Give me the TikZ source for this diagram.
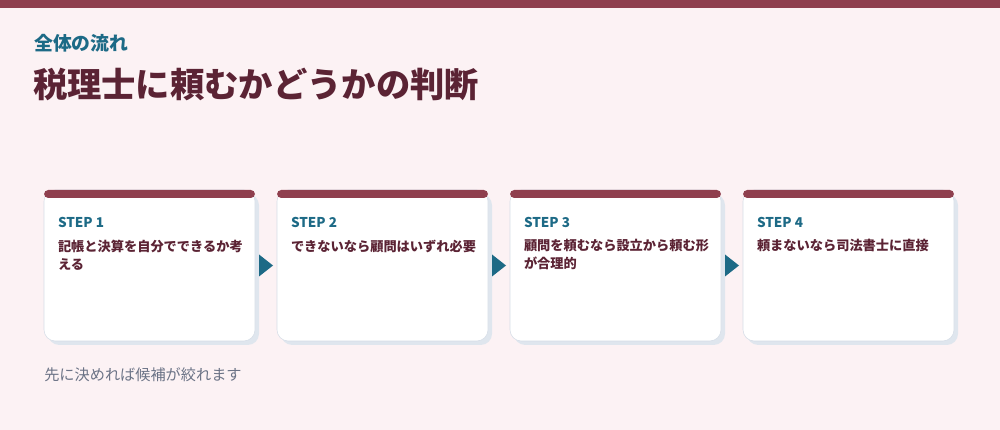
\documentclass[tikz,border=0pt]{standalone}
\usepackage{fontspec}
\setmainfont{Noto Sans CJK JP}
\usetikzlibrary{calc,shadows}

\definecolor{barred}{HTML}{8F3F4E}
\definecolor{pagebg}{HTML}{FCF2F4}
\definecolor{steelteal}{HTML}{1D6A86}
\definecolor{winetext}{HTML}{5B2334}
\definecolor{greytext}{HTML}{6B7386}
\definecolor{cardline}{HTML}{D6DDE7}
\definecolor{cardshade}{HTML}{DFE6EE}

\begin{document}
\begin{tikzpicture}[
    card/.style={draw=cardline, fill=white, rounded corners=8pt,
        minimum width=5.275cm, minimum height=3.775cm, inner sep=0pt,
        drop shadow={shadow xshift=0.1cm, shadow yshift=-0.1cm,
            fill=cardshade, opacity=1}},
    topbar/.style={fill=barred, rounded corners=3pt,
        minimum width=5.275cm, minimum height=0.2cm, inner sep=0pt},
    steplabel/.style={anchor=west, inner sep=0pt, text=steelteal,
        font=\bfseries\fontsize{9.6}{11}\selectfont},
    steptext/.style={anchor=north west, inner sep=0pt, align=left,
        text=winetext, font=\bfseries\fontsize{9.4}{12.8}\selectfont},
    flowarrow/.style={fill=steelteal}
]

% ============================
% Page
% ============================
\fill[pagebg] (0,0) rectangle (25,-10.75);
\useasboundingbox (0,0) rectangle (25,-10.75);
\fill[barred] (0,0) rectangle (25,-0.2);

% ============================
% Headings
% ============================
\node[anchor=west, inner sep=0pt, text=steelteal,
      font=\bfseries\fontsize{13.4}{15}\selectfont] (kicker) at (0.85,-1.08) {全体の流れ};
\node[anchor=west, inner sep=0pt, text=winetext,
      font=\bfseries\fontsize{24.4}{28}\selectfont] (title) at (0.82,-2.1) {税理士に頼むかどうかの判断};

% ============================
% Cards
% ============================
\node[card] (step1) at (3.7375,-6.6375) {};
\node[card] (step2) at (9.5625,-6.6375) {};
\node[card] (step3) at (15.3875,-6.6375) {};
\node[card] (step4) at (21.2125,-6.6375) {};

\node[topbar, anchor=north] (bar1) at (step1.north) {};
\node[topbar, anchor=north] (bar2) at (step2.north) {};
\node[topbar, anchor=north] (bar3) at (step3.north) {};
\node[topbar, anchor=north] (bar4) at (step4.north) {};

% Step labels
\node[steplabel] (lab1) at ($(step1.north west)+(0.35,-0.82)$) {STEP 1};
\node[steplabel] (lab2) at ($(step2.north west)+(0.35,-0.82)$) {STEP 2};
\node[steplabel] (lab3) at ($(step3.north west)+(0.35,-0.82)$) {STEP 3};
\node[steplabel] (lab4) at ($(step4.north west)+(0.35,-0.82)$) {STEP 4};

% Step texts
\node[steptext] (txt1) at ($(step1.north west)+(0.35,-1.24)$) {記帳と決算を自分でできるか考\\える};
\node[steptext] (txt2) at ($(step2.north west)+(0.35,-1.24)$) {できないなら顧問はいずれ必要};
\node[steptext] (txt3) at ($(step3.north west)+(0.35,-1.24)$) {顧問を頼むなら設立から頼む形\\が合理的};
\node[steptext] (txt4) at ($(step4.north west)+(0.35,-1.24)$) {頼まないなら司法書士に直接};

% ============================
% Arrows between cards
% ============================
\coordinate (m12) at ($(step1.east)!0.5!(step2.west)$);
\coordinate (m23) at ($(step2.east)!0.5!(step3.west)$);
\coordinate (m34) at ($(step3.east)!0.5!(step4.west)$);
\foreach \m in {m12,m23,m34}
  \fill[flowarrow] ($(\m)+(-0.175,0.275)$) -- ($(\m)+(0.175,0)$) -- ($(\m)+(-0.175,-0.275)$) -- cycle;

% ============================
% Footer note
% ============================
\node[anchor=west, inner sep=0pt, text=greytext,
      font=\fontsize{10.8}{13}\selectfont] (note) at (1.1,-9.37) {先に決めれば候補が絞れます};

\end{tikzpicture}
\end{document}
